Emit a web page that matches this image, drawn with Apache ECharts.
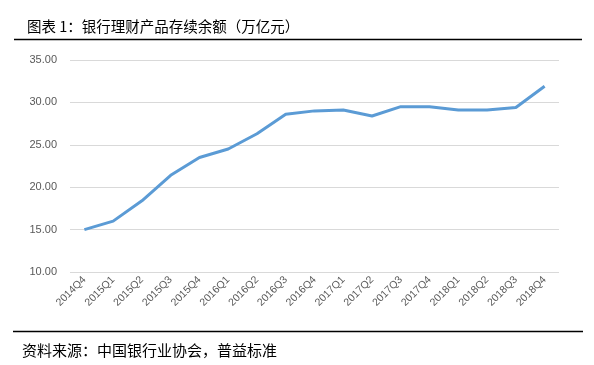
<!DOCTYPE html>
<html><head><meta charset="utf-8">
<script src="https://cdn.jsdelivr.net/npm/echarts@6/dist/echarts.min.js"></script>
<style>html,body{margin:0;padding:0;background:#fff}#c{width:594px;height:365px}</style>
</head><body><div id="c"></div>
<script>
const categories = ['2014Q4','2015Q1','2015Q2','2015Q3','2015Q4','2016Q1','2016Q2','2016Q3','2016Q4','2017Q1','2017Q2','2017Q3','2017Q4','2018Q1','2018Q2','2018Q3','2018Q4'];
const balance = [15.0, 16.0, 18.4, 21.4, 23.5, 24.5, 26.3, 28.6, 29.0, 29.1, 28.4, 29.5, 29.5, 29.1, 29.1, 29.4, 31.9];
const titleText = '图表 1：银行理财产品存续余额（万亿元）';
const sourceText = '资料来源：中国银行业协会，普益标准';

const chart = echarts.init(document.getElementById('c'));
chart.setOption({
  animation: false,
  title: {
    text: titleText, left: 22, top: 14,
    textStyle: {fontFamily: 'Noto Sans CJK SC', fontSize: 14.5, fontWeight: 'normal', color: '#000'}
  },
  grid: {left: 70, right: 35, top: 60, bottom: 93, containLabel: false},
  xAxis: {
    type: 'category', data: categories, boundaryGap: true,
    axisLine: {show: false}, axisTick: {show: false},
    axisLabel: {rotate: 45, fontSize: 10.5, color: '#595959', fontFamily: 'Liberation Sans', margin: 6}
  },
  yAxis: {
    type: 'value', min: 10, max: 35, interval: 5,
    axisLine: {show: false}, axisTick: {show: false},
    splitLine: {lineStyle: {color: '#d9d9d9', width: 1}},
    axisLabel: {formatter: v => v.toFixed(2), fontSize: 11, color: '#595959', fontFamily: 'Liberation Sans', margin: 13}
  },
  series: [{
    type: 'line', data: balance, symbol: 'none',
    lineStyle: {color: '#5B9BD5', width: 3}
  }],
  graphic: [
    {type: 'line', shape: {x1: 14, y1: 39.5, x2: 582, y2: 39.5}, style: {stroke: '#000', lineWidth: 1.5}},
    {type: 'line', shape: {x1: 13, y1: 331.5, x2: 583, y2: 331.5}, style: {stroke: '#000', lineWidth: 1.5}},
    {type: 'text', left: 22, top: 343, style: {text: sourceText, font: '15px "Noto Sans CJK SC"', fill: '#000'}}
  ]
});
</script></body></html>
